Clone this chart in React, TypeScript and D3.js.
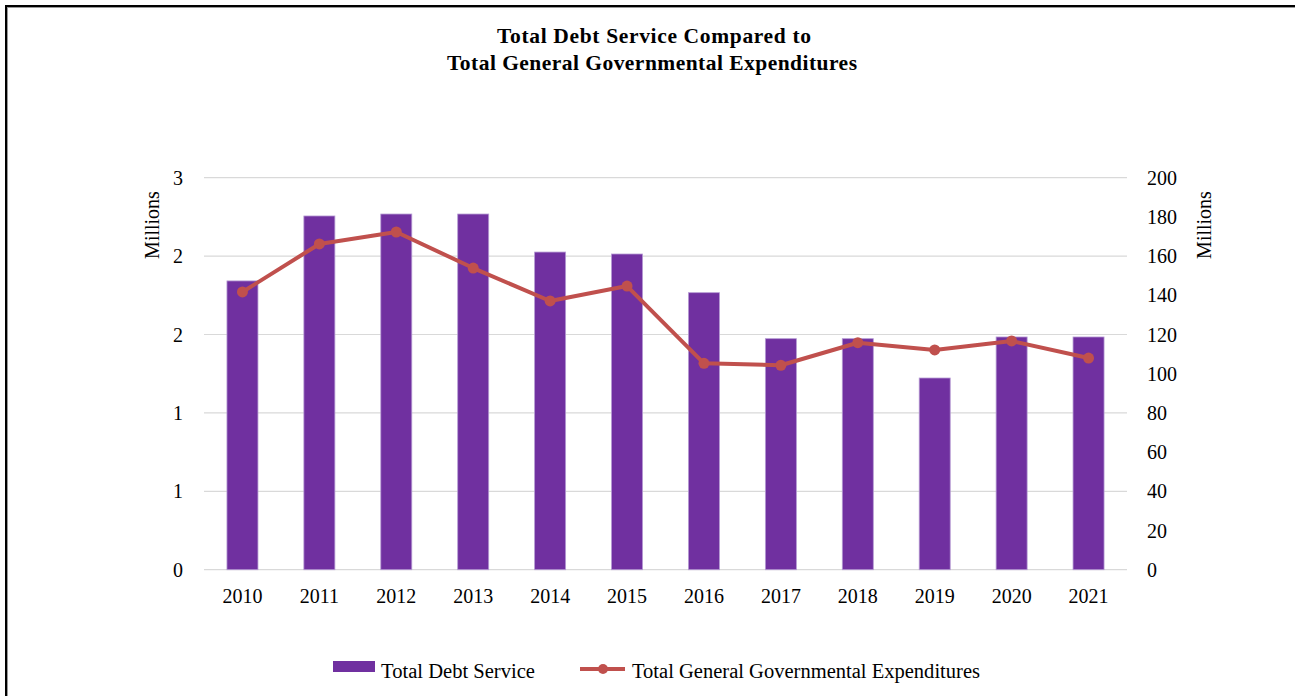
import React from "react";
import * as d3 from "d3";

const years = ["2010","2011","2012","2013","2014","2015","2016","2017","2018","2019","2020","2021"];
const debtService = [2.21, 2.707, 2.722, 2.722, 2.431, 2.416, 2.12, 1.768, 1.768, 1.467, 1.781, 1.781];
const expenditures = [141.7, 166.2, 172.3, 153.9, 137.1, 144.7, 105.3, 104.3, 115.8, 112.1, 116.7, 108.0];
const leftTicks = [0, 0.6, 1.2, 1.8, 2.4, 3.0];
const leftTickLabels = ["0", "1", "1", "2", "2", "3"];
const rightTicks = [0, 20, 40, 60, 80, 100, 120, 140, 160, 180, 200];
const titleLines = ["Total Debt Service Compared to", "Total General Governmental Expenditures"];
const legendLabels = ["Total Debt Service", "Total General Governmental Expenditures"];

const W = 1295, H = 696;
const X0 = 204, X1 = 1127, YT = 177.7, YB = 569.7;
const PURPLE = "#7030A0";
const RED = "#C0504D";
const FONT = "'Liberation Serif', 'Times New Roman', serif";

export default function App() {
  const x = d3.scaleBand<string>().domain(years).range([X0, X1]).paddingInner(0.597).paddingOuter(0.2985);
  const yL = d3.scaleLinear().domain([0, 3]).range([YB, YT]);
  const yR = d3.scaleLinear().domain([0, 200]).range([YB, YT]);
  const bw = x.bandwidth();
  const cx = (y: string) => (x(y) as number) + bw / 2;
  const line = d3.line<number>().x((_, i) => cx(years[i])).y((d) => yR(d));

  return (
    <svg width={W} height={H} style={{ position: "absolute", left: 0, top: 0, background: "#fff" }} fontFamily={FONT}>
      <rect x={0} y={0} width={W} height={H} fill="#fff" />
      {/* frame */}
      <line x1={6} y1={5} x2={6} y2={H} stroke="#000" strokeWidth={2} />
      <line x1={5} y1={6} x2={W} y2={6} stroke="#000" strokeWidth={2} />
      <line x1={7.5} y1={7} x2={7.5} y2={H} stroke="#999" strokeWidth={1} />
      <line x1={7} y1={7.5} x2={W} y2={7.5} stroke="#999" strokeWidth={1} />

      {/* title */}
      <text x={654} y={43} textAnchor="middle" fontSize={21.5} fontWeight="bold" textLength={314} lengthAdjust="spacing">{titleLines[0]}</text>
      <text x={652} y={70} textAnchor="middle" fontSize={21.5} fontWeight="bold" textLength={410} lengthAdjust="spacing">{titleLines[1]}</text>

      {/* gridlines */}
      {leftTicks.map((t, i) => (
        <line key={"g" + i} x1={X0} x2={X1} y1={yL(t)} y2={yL(t)} stroke="#d9d9d9" strokeWidth={1.2} />
      ))}

      {/* left tick labels */}
      {leftTicks.map((t, i) => (
        <text key={"l" + i} x={183} y={yL(t)} dy="0.35em" textAnchor="end" fontSize={20}>{leftTickLabels[i]}</text>
      ))}
      {/* right tick labels */}
      {rightTicks.map((t, i) => (
        <text key={"r" + i} x={1147} y={yR(t)} dy="0.35em" textAnchor="start" fontSize={20}>{t}</text>
      ))}

      {/* axis titles */}
      <text transform={`translate(159,225) rotate(-90)`} textAnchor="middle" fontSize={20}>Millions</text>
      <text transform={`translate(1211,225) rotate(-90)`} textAnchor="middle" fontSize={20}>Millions</text>

      {/* bars */}
      {debtService.map((v, i) => (
        <rect key={"b" + i} x={x(years[i])} y={yL(v)} width={bw} height={YB - yL(v)} fill={PURPLE} stroke="#b59ad3" strokeWidth={0.8} />
      ))}

      {/* line */}
      <path d={line(expenditures) || ""} fill="none" stroke={RED} strokeWidth={4} strokeLinejoin="round" />
      {expenditures.map((v, i) => (
        <circle key={"c" + i} cx={cx(years[i])} cy={yR(v)} r={5.5} fill={RED} />
      ))}

      {/* x labels */}
      {years.map((y) => (
        <text key={"x" + y} x={cx(y)} y={603} textAnchor="middle" fontSize={20}>{y}</text>
      ))}

      {/* legend */}
      <rect x={333} y={661} width={42} height={11} fill={PURPLE} />
      <text x={381} y={678} fontSize={20} textLength={154} lengthAdjust="spacingAndGlyphs">{legendLabels[0]}</text>
      <line x1={580} x2={625} y1={669} y2={669} stroke={RED} strokeWidth={4} />
      <circle cx={603} cy={669} r={5} fill={RED} />
      <text x={632} y={678} fontSize={20} textLength={348} lengthAdjust="spacingAndGlyphs">{legendLabels[1]}</text>
    </svg>
  );
}
